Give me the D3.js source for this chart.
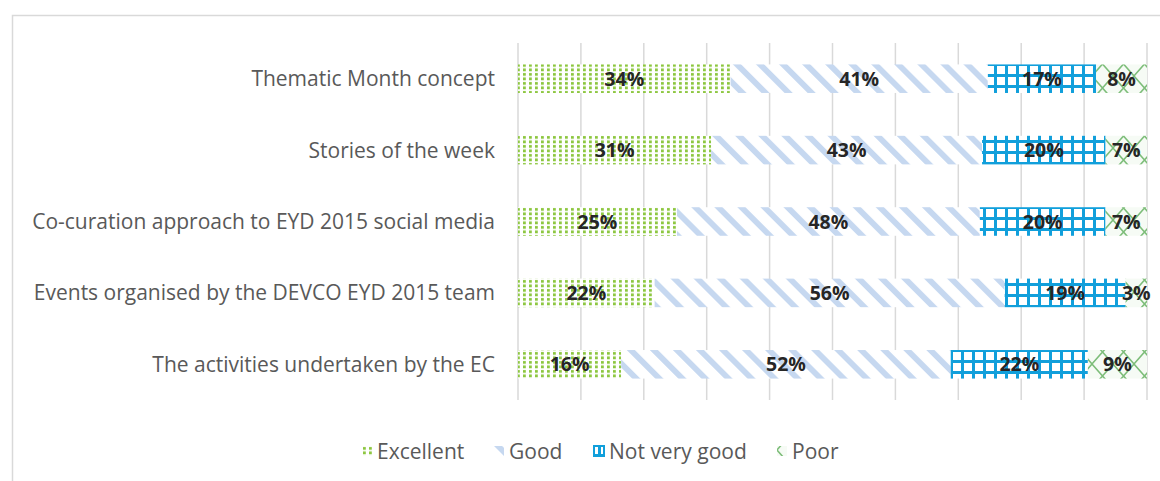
<!DOCTYPE html>
<html>
<head>
<meta charset="utf-8">
<script src="https://cdn.jsdelivr.net/npm/d3@7"></script>
<style>
  body { margin: 0; background: #fff; }
  svg { display: block; }
</style>
</head>
<body>
<svg width="1160" height="481"></svg>
<script>
  // categories, top to bottom
  const categories = [
    "Thematic Month concept",
    "Stories of the week",
    "Co-curation approach to EYD 2015 social media",
    "Events organised by the DEVCO EYD 2015 team ",
    "The activities undertaken by the EC"
  ];
  const seriesNames = ["Excellent", "Good", "Not very good", "Poor"];
  // values (percent)
  const excellent = [33.8, 30.8, 25.3, 21.7, 16.4];
  const good      = [40.9, 43.2, 48.2, 55.6, 52.4];
  const notGood   = [17.2, 19.7, 20.0, 19.2, 21.8];
  const poor      = [8.1, 6.6, 6.6, 3.4, 9.4];
  const xTicks = [0, 10, 20, 30, 40, 50, 60, 70, 80, 90, 100];

  const svg = d3.select("svg"),
    width = +svg.attr("width"),
    height = +svg.attr("height");

  const rows = categories.map(function(c, i) {
    return { name: c, Excellent: excellent[i], Good: good[i], "Not very good": notGood[i], Poor: poor[i] };
  });

  // 100% stacked, like the original
  const stack = d3.stack().keys(seriesNames).offset(d3.stackOffsetExpand);
  const layers = stack(rows);

  const x = d3.scaleLinear().domain([0, 1]).range([518, 1147]);
  const y = d3.scaleBand().domain(categories).range([43, 400]).paddingInner(0.6).paddingOuter(0.3);

  // patterns
  const defs = svg.append("defs");

  let p = defs.append("pattern").attr("id", "pExcellent").attr("patternUnits", "userSpaceOnUse")
    .attr("width", 6).attr("height", 4.5);
  p.append("rect").attr("width", 6).attr("height", 4.5).attr("fill", "#fff");
  p.append("rect").attr("x", 1).attr("y", 1).attr("width", 2.8).attr("height", 2.8).attr("fill", "#8cc63e");

  p = defs.append("pattern").attr("id", "pGood").attr("patternUnits", "userSpaceOnUse")
    .attr("width", 16.3).attr("height", 16.3).attr("patternTransform", "rotate(-45)");
  p.append("rect").attr("width", 16.3).attr("height", 16.3).attr("fill", "#fff");
  p.append("rect").attr("width", 5.8).attr("height", 16.3).attr("fill", "#c6d8f0");

  p = defs.append("pattern").attr("id", "pNot").attr("patternUnits", "userSpaceOnUse")
    .attr("width", 11).attr("height", 11).attr("y", 4);
  p.append("rect").attr("width", 11).attr("height", 11).attr("fill", "#fff");
  p.append("rect").attr("x", 4).attr("width", 3).attr("height", 11).attr("fill", "#119fdb");
  p.append("rect").attr("y", 4).attr("width", 11).attr("height", 3).attr("fill", "#119fdb");

  p = defs.append("pattern").attr("id", "pPoor").attr("patternUnits", "userSpaceOnUse")
    .attr("width", 21).attr("height", 24).attr("y", 4);
  p.append("rect").attr("width", 21).attr("height", 24).attr("fill", "#f6fbf5");
  p.append("path").attr("d", "M0,0L21,24M21,0L0,24").attr("stroke", "#7dbd79").attr("stroke-width", 1.5);

  const fills = { "Excellent": "url(#pExcellent)", "Good": "url(#pGood)", "Not very good": "url(#pNot)", "Poor": "url(#pPoor)" };

  // chart frame
  svg.append("rect")
    .attr("x", 12.5).attr("y", 15.5)
    .attr("width", width).attr("height", height)
    .attr("fill", "none").attr("stroke", "#d9d9d9").attr("stroke-width", 1.5);

  // gridlines
  svg.append("g").selectAll("line")
    .data(xTicks)
    .enter().append("line")
    .attr("x1", function(d) { return x(d / 100); })
    .attr("x2", function(d) { return x(d / 100); })
    .attr("y1", 43).attr("y2", 400)
    .attr("stroke", "#d9d9d9").attr("stroke-width", 1.5);

  // bars
  const layer = svg.append("g").selectAll("g.layer")
    .data(layers)
    .enter().append("g")
    .attr("class", "layer")
    .attr("fill", function(d) { return fills[d.key]; });

  layer.selectAll("rect")
    .data(function(d) { return d; })
    .enter().append("rect")
    .attr("x", function(d) { return x(d[0]); })
    .attr("y", function(d) { return y(d.data.name); })
    .attr("width", function(d) { return x(d[1]) - x(d[0]); })
    .attr("height", y.bandwidth());

  // value labels
  layer.selectAll("text")
    .data(function(d) { return d.map(function(s) { s.key = d.key; return s; }); })
    .enter().append("text")
    .attr("x", function(d) { return (x(d[0]) + x(d[1])) / 2; })
    .attr("y", function(d) { return y(d.data.name) + y.bandwidth() / 2; })
    .attr("dy", "0.36em")
    .attr("text-anchor", "middle")
    .attr("fill", "#262626")
    .style("font-family", "'Open Sans', sans-serif")
    .style("font-weight", "bold")
    .style("font-size", "19.5px")
    .text(function(d) { return Math.round(d.data[d.key]) + "%"; });

  // category labels
  svg.append("g").selectAll("text")
    .data(categories)
    .enter().append("text")
    .attr("x", 495)
    .attr("y", function(d) { return y(d) + y.bandwidth() / 2; })
    .attr("dy", "0.36em")
    .attr("text-anchor", "end")
    .attr("fill", "#595959")
    .style("font-family", "'Open Sans', sans-serif")
    .style("font-size", "21px")
    .text(function(d) { return d; });

  // legend
  const legendX = [362, 494, 594, 777];
  const legend = svg.append("g").selectAll("g")
    .data(seriesNames)
    .enter().append("g")
    .attr("transform", function(d, i) { return "translate(" + legendX[i] + ",446)"; });

  legend.append("rect")
    .attr("width", 10).attr("height", 10)
    .attr("fill", function(d) { return fills[d]; })
    .attr("stroke", function(d) { return d === "Not very good" ? "#119fdb" : "none"; })
    .attr("stroke-width", 2);

  legend.append("text")
    .attr("x", 15).attr("y", 5)
    .attr("dy", "0.36em")
    .attr("fill", "#595959")
    .style("font-family", "'Open Sans', sans-serif")
    .style("font-size", "21px")
    .text(function(d) { return d; });
</script>
</body>
</html>
